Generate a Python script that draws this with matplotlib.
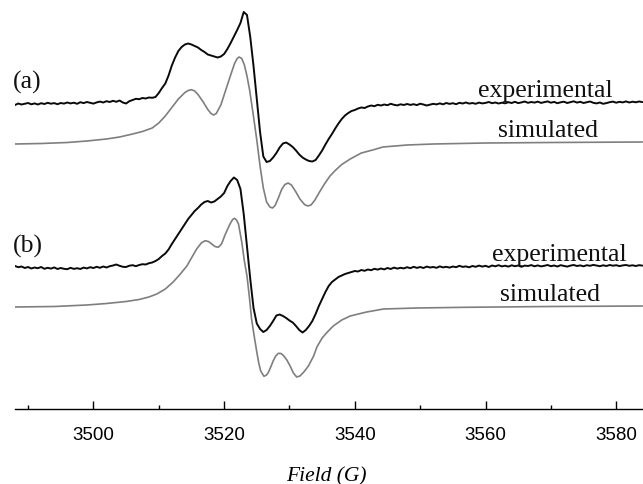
import numpy as np
import matplotlib
matplotlib.use("Agg")
import matplotlib.pyplot as plt

# recorded spectra share one field grid (G), 0.5 G steps
exp_field = np.arange(3488.0, 3584.01, 0.5)

# (a) experimental, intensity relative to its own baseline (a.u.)
exp_a = [
    -1.0, 0.5, -0.5, 0.2, 1.0, -0.3, 0.6, -0.5, 0.8, 0.0,
    1.2, 0.3, 0.9, -0.2, 1.0, 0.4, 1.5, 0.6, 1.3, 0.2,
    1.8, 0.9, 2.0, 1.2, 0.4, 1.6, 2.4, 1.5, 2.8, 2.0,
    3.2, 2.2, 3.5, 1.5, 0.5, 2.8, 4.0, 5.2, 4.8, 6.0,
    5.5, 6.5, 6.2, 7.0, 11.0, 16.0, 20.5, 28.5, 38.5, 46.5,
    53.0, 57.0, 59.5, 60.5, 59.5, 58.0, 56.5, 54.0, 52.0, 49.5,
    48.5, 47.5, 46.5, 47.5, 50.0, 55.0, 61.0, 67.5, 74.0, 81.0,
    92.0, 89.0, 67.0, 38.0, 5.0, -28.0, -52.5, -58.0, -57.0, -53.5,
    -49.0, -43.5, -39.5, -38.5, -40.5, -43.0, -46.5, -50.5, -53.5, -55.5,
    -57.0, -57.5, -56.0, -51.5, -46.5, -40.5, -35.0, -30.0, -24.5, -19.5,
    -15.0, -11.5, -9.0, -7.0, -6.0, -4.5, -3.5, -4.0, -2.5, -1.5,
    -2.2, -0.8, -1.5, -0.5, -1.2, 0.2, -0.8, -1.4, -0.3, -1.0,
    0.0, -0.9, -0.2, -1.1, 0.3, -0.5, -1.5, -0.6, 0.2, -0.4,
    0.6, -0.3, 1.0, 0.1, 0.8, -0.2, 1.2, 0.5, 1.5, 0.4,
    1.0, 0.2, 1.4, 0.6, 1.1, 2.0, 0.8, 1.5, 0.5, 1.3,
    0.7, 1.8, 1.0, 2.2, 0.9, 1.6, 2.5, 1.2, 2.0, 1.4,
    2.4, 1.1, 1.8, 2.6, 1.3, 2.1, 0.8, 1.7, 2.3, 1.0,
    1.9, 2.7, 1.4, 2.2, 1.0, 1.8, 2.5, 1.2, 0.6, 1.5,
    0.2, 0.9, 1.8, 2.4, 1.3, 2.2, 1.6, 2.6, 1.5, 2.3,
    1.7, 2.5, 1.9,
]

# (b) experimental
exp_b = [
    0.0, -1.2, -0.5, -2.0, -1.0, -2.5, -1.5, -2.2, -1.0, -2.8,
    -1.8, -2.6, -1.4, -3.0, -2.0, -2.8, -3.2, -1.8, -2.9, -2.2,
    -3.0, -1.6, -2.4, -1.2, -2.0, -0.8, -1.8, -0.5, -1.5, -0.2,
    0.5, 1.5, 0.2, -0.8, -1.0, 0.3, 0.8, -0.2, 1.0, 1.8,
    1.5, 2.8, 3.5, 5.0, 7.0, 10.0, 12.5, 16.5, 22.0, 27.0,
    32.0, 37.0, 42.0, 47.0, 51.0, 55.0, 58.0, 61.5, 64.0, 65.0,
    63.5, 64.5, 67.0, 69.5, 73.0, 80.0, 85.0, 88.5, 86.0, 77.0,
    52.0, 20.0, -13.0, -42.0, -57.5, -63.0, -66.0, -64.0, -60.0, -55.0,
    -49.5, -48.5, -50.0, -52.0, -54.5, -56.5, -60.0, -64.0, -66.5, -64.0,
    -60.0, -55.0, -48.0, -40.0, -33.0, -26.0, -20.0, -16.0, -13.5, -11.0,
    -9.5, -8.0, -7.0, -6.0, -5.0, -5.5, -4.0, -4.8, -3.5, -4.2,
    -2.8, -3.6, -2.5, -3.4, -2.0, -3.0, -1.6, -2.6, -1.8, -2.4,
    -1.2, -2.2, -0.8, -1.9, -1.0, -2.0, -0.6, -1.5, -1.0, -1.8,
    -0.4, -1.4, -0.8, -1.6, -0.5, -1.2, 0.2, -0.9, -0.4, -1.3,
    0.0, -0.8, 0.4, -0.6, 0.2, -1.0, 0.5, -0.3, 0.8, -0.4,
    0.3, -0.6, 0.7, -0.2, 0.5, -0.8, 0.4, 0.0, 0.9, -0.3,
    0.6, -0.4, 0.2, 1.0, -0.2, 0.5, -0.5, 0.8, 0.1, -0.6,
    0.4, 1.0, 0.0, 0.6, -0.3, 0.8, 0.2, 1.1, 0.4, -0.2,
    0.7, 0.0, 1.0, 0.3, 0.8, -0.1, 0.6, 1.0, 0.2, 0.7,
    0.0, 0.8, 0.4,
]

# simulated spectra, read at their own field points
sim_a_field = [
    3488, 3492, 3496, 3499, 3502, 3504, 3506, 3507.5, 3509, 3510,
    3511, 3512, 3513, 3514, 3514.5, 3515, 3515.5, 3516, 3516.8, 3517.5,
    3518, 3518.4, 3518.8, 3519.5, 3520.2, 3521, 3521.6, 3522, 3522.3, 3522.7,
    3523.1, 3523.5, 3523.9, 3524.4, 3525, 3525.5, 3526, 3526.5, 3527, 3527.4,
    3527.8, 3528.3, 3528.8, 3529.3, 3529.8, 3530.3, 3530.9, 3531.6, 3532.3, 3532.8,
    3533.3, 3533.9, 3534.6, 3535.4, 3536.2, 3537, 3538, 3539.3, 3541, 3543,
    3544.3, 3548, 3552, 3560, 3570, 3584,
]
sim_a = [
    -2, -1.5, -0.5, 1, 3, 5, 8, 10.5, 14, 19,
    26, 34.5, 43, 49.5, 51.5, 52.3, 51, 47.5, 40, 32.5,
    28.5, 27, 28.5, 37, 51, 67, 78.5, 83.5, 85, 83.5,
    77, 66, 52, 30, 2, -24, -46, -60, -65, -66,
    -63.5, -56, -47.5, -42.5, -41, -43, -49, -57, -62.5, -64,
    -63, -58, -50, -41.5, -34, -28.5, -22.5, -17, -11, -7.5,
    -5, -3, -2, -1, -0.5, 0,
]

sim_b_field = [
    3488, 3494, 3499, 3502, 3505, 3507, 3508.5, 3509.7, 3511, 3512.2,
    3513.3, 3514.3, 3515, 3515.8, 3516.5, 3517.1, 3517.6, 3518.1, 3518.6, 3519.1,
    3519.6, 3520.2, 3520.9, 3521.3, 3521.6, 3521.9, 3522.2, 3522.7, 3523.1, 3523.5,
    3523.9, 3524.2, 3524.6, 3525.0, 3525.3, 3525.6, 3526.1, 3526.5, 3526.8, 3527.2,
    3527.5, 3527.9, 3528.3, 3528.7, 3529.1, 3529.6, 3530.1, 3530.6, 3531.1, 3531.6,
    3532.2, 3532.9, 3533.7, 3534.2, 3535, 3535.8, 3536.7, 3538, 3539.3, 3541.8,
    3544.4, 3549.5, 3557, 3570, 3584,
]
sim_b = [
    -1, -0.5, 1, 2.5, 4.5, 6.5, 9, 12, 17, 24,
    32, 40, 48, 57, 63, 65.3, 64.5, 62, 59.5, 58.7,
    62, 72, 82, 86.5, 87.7, 86, 82, 64, 45, 30,
    7, -13, -30, -46, -57, -65, -70.3, -69, -66, -60,
    -55, -50, -47.3, -47.5, -49.7, -54, -60, -67, -71, -70,
    -66, -60, -50, -41, -32, -26, -20, -14, -10, -6,
    -3, -2, -1.3, -0.5, 0,
]

# vertical stacking of the four traces (a.u.)
offset_exp_a = 305
offset_sim_a = 267
offset_exp_b = 143
offset_sim_b = 103

major_ticks = [3500, 3520, 3540, 3560, 3580]
minor_ticks = [3490, 3510, 3530, 3550, 3570]

serif = ["Liberation Serif", "DejaVu Serif"]
sans = ["Liberation Sans", "DejaVu Sans"]
black = "#0a0a0a"
grey = "#7f7f7f"

fig = plt.figure(figsize=(6.43, 4.85), dpi=100)
ax = fig.add_axes([15 / 643, 75 / 485, 628 / 643, 410 / 485])

line_kw = dict(solid_joinstyle="round", solid_capstyle="round")
ax.plot(exp_field, np.array(exp_a) + offset_exp_a, color=black, lw=1.4, **line_kw)
ax.plot(sim_a_field, np.array(sim_a) + offset_sim_a, color=grey, lw=1.2, **line_kw)
ax.plot(exp_field, np.array(exp_b) + offset_exp_b, color=black, lw=1.4, **line_kw)
ax.plot(sim_b_field, np.array(sim_b) + offset_sim_b, color=grey, lw=1.2, **line_kw)

ax.set_xlim(3488.0, 3584.1)
ax.set_ylim(0, 410)

for side in ["top", "left", "right"]:
    ax.spines[side].set_visible(False)
ax.spines["bottom"].set_linewidth(1.0)
ax.set_yticks([])
ax.set_xticks(major_ticks)
ax.set_xticks(minor_ticks, minor=True)
ax.tick_params(axis="x", which="major", direction="in", length=6, width=1.0, pad=12)
ax.tick_params(axis="x", which="minor", direction="in", length=3, width=1.0)
for lab in ax.get_xticklabels():
    lab.set_fontfamily(sans)
    lab.set_fontsize(13.5)

fig.text(326 / 643, 1 - 481 / 485, "Field (G)", family=serif, style="italic",
         fontsize=15.5, ha="center", va="baseline")

txt = dict(family=serif, fontsize=18.5, va="baseline", color="#111111")
ax.text(3569.1, 312.5, "experimental", ha="center", **txt)
ax.text(3569.6, 272.7, "simulated", ha="center", **txt)
ax.text(3571.3, 149.3, "experimental", ha="center", **txt)
ax.text(3569.9, 109.3, "simulated", ha="center", **txt)
ax.text(3487.7, 321, "(a)", ha="left", **txt)
ax.text(3487.7, 157, "(b)", ha="left", **txt)

fig.savefig("out.png", dpi=100)
